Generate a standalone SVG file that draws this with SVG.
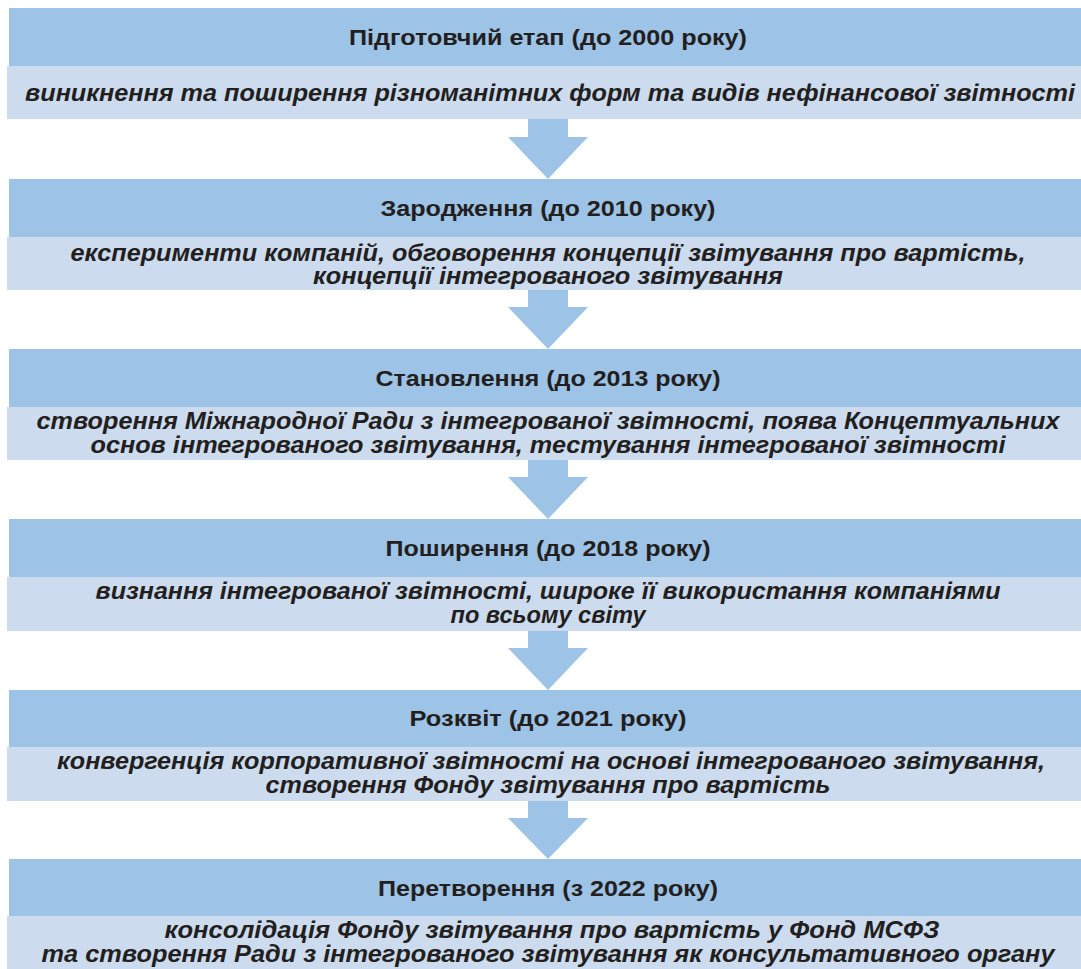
<svg xmlns="http://www.w3.org/2000/svg" width="1081" height="969" viewBox="0 0 1081 969">
<style>
.hd{fill:#9DC3E6}
.sb{fill:#CCDCEE}
.ar{fill:#9DC3E6}
text{font-family:"Liberation Sans",Arial,sans-serif;fill:#231F20;text-anchor:middle;font-weight:bold}
.t{font-size:22px}
.s{font-size:24px;font-style:italic}
</style>
<rect width="1081" height="969" fill="#FFFFFF"/>
<g id="connectors">
<polygon class="ar" points="528,119 568,119 568,137 588,137 548,179 508,137 528,137"/>
<polygon class="ar" points="528,290 568,290 568,307 588,307 548,349 508,307 528,307"/>
<polygon class="ar" points="528,460 568,460 568,477 588,477 548,519 508,477 528,477"/>
<polygon class="ar" points="528,631 568,631 568,648 588,648 548,690 508,648 528,648"/>
<polygon class="ar" points="528,801 568,801 568,818 588,818 548,859 508,818 528,818"/>
</g>
<g id="stage1">
<rect class="hd" x="9" y="8" width="1072" height="58"/>
<rect class="sb" x="7" y="66" width="1074" height="53"/>
<text class="t" x="548" y="45" textLength="398" lengthAdjust="spacingAndGlyphs">Підготовчий етап (до 2000 року)</text>
<text class="s" x="550" y="101" textLength="1050" lengthAdjust="spacingAndGlyphs">виникнення та поширення різноманітних форм та видів нефінансової звітності</text>
</g>
<g id="stage2">
<rect class="hd" x="9" y="179" width="1072" height="58"/>
<rect class="sb" x="7" y="237" width="1074" height="53"/>
<text class="t" x="548" y="216" textLength="335" lengthAdjust="spacingAndGlyphs">Зародження (до 2010 року)</text>
<text class="s" x="548" y="261" textLength="955" lengthAdjust="spacingAndGlyphs">експерименти компаній, обговорення концепції звітування про вартість,</text>
<text class="s" x="548" y="284" textLength="470" lengthAdjust="spacingAndGlyphs">концепції інтегрованого звітування</text>
</g>
<g id="stage3">
<rect class="hd" x="9" y="349" width="1072" height="58"/>
<rect class="sb" x="7" y="407" width="1074" height="53"/>
<text class="t" x="548" y="386" textLength="345" lengthAdjust="spacingAndGlyphs">Становлення (до 2013 року)</text>
<text class="s" x="548" y="429" textLength="1023" lengthAdjust="spacingAndGlyphs">створення Міжнародної Ради з інтегрованої звітності, поява Концептуальних</text>
<text class="s" x="548" y="453" textLength="915" lengthAdjust="spacingAndGlyphs">основ інтегрованого звітування, тестування інтегрованої звітності</text>
</g>
<g id="stage4">
<rect class="hd" x="9" y="519" width="1072" height="58"/>
<rect class="sb" x="7" y="577" width="1074" height="54"/>
<text class="t" x="548" y="556" textLength="325" lengthAdjust="spacingAndGlyphs">Поширення (до 2018 року)</text>
<text class="s" x="548" y="599" textLength="905" lengthAdjust="spacingAndGlyphs">визнання інтегрованої звітності, широке її використання компаніями</text>
<text class="s" x="548" y="623" textLength="195" lengthAdjust="spacingAndGlyphs">по всьому світу</text>
</g>
<g id="stage5">
<rect class="hd" x="9" y="690" width="1072" height="57"/>
<rect class="sb" x="7" y="747" width="1074" height="54"/>
<text class="t" x="548" y="726" textLength="277" lengthAdjust="spacingAndGlyphs">Розквіт (до 2021 року)</text>
<text class="s" x="551" y="769" textLength="988" lengthAdjust="spacingAndGlyphs">конвергенція корпоративної звітності на основі інтегрованого звітування,</text>
<text class="s" x="548" y="793" textLength="565" lengthAdjust="spacingAndGlyphs">створення Фонду звітування про вартість</text>
</g>
<g id="stage6">
<rect class="hd" x="9" y="859" width="1072" height="57"/>
<rect class="sb" x="7" y="916" width="1074" height="53"/>
<text class="t" x="548" y="896" textLength="340" lengthAdjust="spacingAndGlyphs">Перетворення (з 2022 року)</text>
<text class="s" x="552" y="938" textLength="775" lengthAdjust="spacingAndGlyphs">консолідація Фонду звітування про вартість у Фонд МСФЗ</text>
<text class="s" x="548" y="962" textLength="1013" lengthAdjust="spacingAndGlyphs">та створення Ради з інтегрованого звітування як консультативного органу</text>
</g>
</svg>
